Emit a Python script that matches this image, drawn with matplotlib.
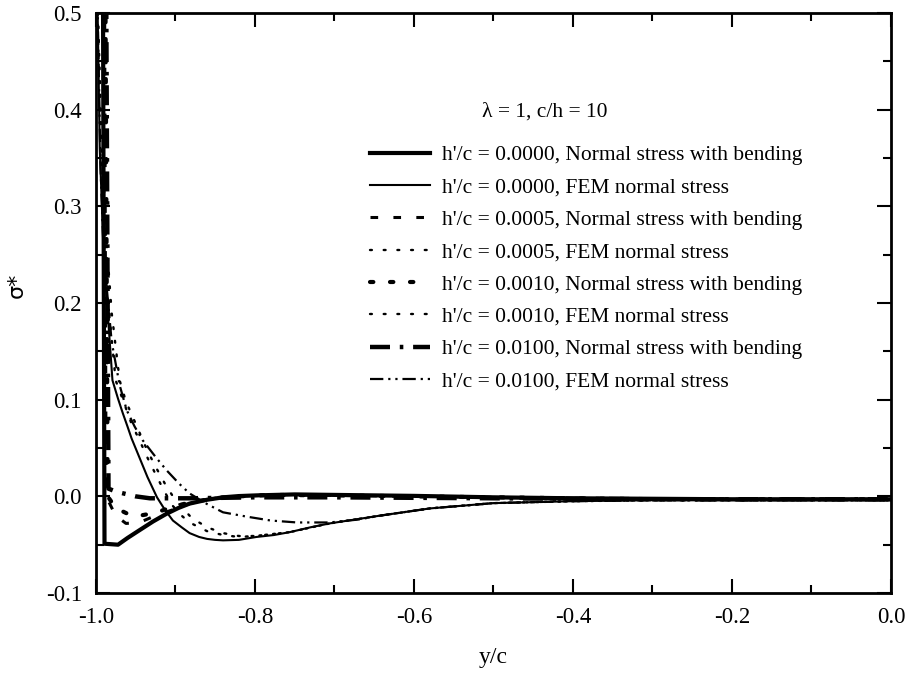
import matplotlib
matplotlib.use('Agg')
import matplotlib.pyplot as plt
from matplotlib.ticker import MultipleLocator, FormatStrFormatter

plt.rcParams['font.family'] = 'Liberation Serif'

# h'/c = 0.0000, normal stress with bending
x_b0 = [-0.991, -0.989, -0.972, -0.960, -0.945, -0.928, -0.911, -0.896, -0.882, -0.860, -0.840, -0.820,
        -0.798, -0.750, -0.700, -0.600, -0.500, -0.400, -0.300, -0.200, -0.100, 0.000]
y_b0 = [0.55, -0.049, -0.050, -0.043, -0.035, -0.026, -0.018, -0.012, -0.0075, -0.0035, -0.001, 0.0003,
        0.001, 0.002, 0.0015, 0.0005, -0.001, -0.002, -0.0025, -0.003, -0.003, -0.003]

# h'/c = 0.0000, FEM normal stress
x_f0 = [-0.998, -0.995, -0.990, -0.985, -0.979, -0.972, -0.966, -0.960, -0.955, -0.945, -0.935, -0.923,
        -0.913, -0.903, -0.892, -0.882, -0.870, -0.860, -0.850, -0.840, -0.820, -0.798, -0.776, -0.756,
        -0.730, -0.706, -0.643, -0.580, -0.500, -0.400, -0.300, -0.200, -0.100, 0.000]
y_f0 = [0.52, 0.36, 0.25, 0.19, 0.12, 0.101, 0.086, 0.072, 0.060, 0.040, 0.020, -0.001,
        -0.014, -0.025, -0.032, -0.038, -0.042, -0.044, -0.045, -0.0455, -0.045, -0.042, -0.040, -0.037,
        -0.032, -0.028, -0.020, -0.0125, -0.007, -0.005, -0.004, -0.004, -0.004, -0.004]

# h'/c = 0.0005, normal stress with bending
x_b1 = [-0.989, -0.987, -0.975, -0.962, -0.945, -0.925, -0.900, -0.880, -0.850, -0.820, -0.780, -0.700,
        -0.600, -0.500, -0.400, -0.300, -0.200, -0.100, 0.000]
y_b1 = [0.55, 0.0, -0.020, -0.028, -0.027, -0.020, -0.013, -0.007, -0.002, 0.0, 0.0015, 0.001,
        0.0, -0.001, -0.002, -0.003, -0.003, -0.003, -0.003]

# h'/c = 0.0005, FEM normal stress
x_f1 = [-0.998, -0.994, -0.988, -0.982, -0.975, -0.966, -0.955, -0.945, -0.935, -0.923, -0.913, -0.903,
        -0.892, -0.882, -0.870, -0.860, -0.840, -0.820, -0.800, -0.756, -0.706, -0.643, -0.580, -0.500,
        -0.400, -0.300, -0.200, -0.100, 0.000]
y_f1 = [0.52, 0.38, 0.26, 0.18, 0.12, 0.100, 0.075, 0.058, 0.040, 0.020, 0.004, -0.010,
        -0.020, -0.027, -0.032, -0.036, -0.040, -0.042, -0.041, -0.037, -0.028, -0.020, -0.0125, -0.007,
        -0.005, -0.004, -0.004, -0.004, -0.004]

# h'/c = 0.0010, normal stress with bending
x_b2 = [-0.988, -0.985, -0.975, -0.960, -0.945, -0.925, -0.900, -0.880, -0.850, -0.820, -0.780, -0.700,
        -0.600, -0.500, -0.400, -0.300, -0.200, -0.100, 0.000]
y_b2 = [0.55, 0.0, -0.012, -0.018, -0.020, -0.017, -0.010, -0.006, -0.002, 0.0, 0.0015, 0.001,
        0.0, -0.001, -0.002, -0.003, -0.003, -0.003, -0.003]

# h'/c = 0.0010, FEM normal stress
x_f2 = [-0.998, -0.993, -0.987, -0.980, -0.970, -0.962, -0.955, -0.945, -0.935, -0.923, -0.913, -0.903,
        -0.892, -0.882, -0.870, -0.860, -0.840, -0.820, -0.800, -0.756, -0.706, -0.643, -0.580, -0.500,
        -0.400, -0.300, -0.200, -0.100, 0.000]
y_f2 = [0.52, 0.38, 0.27, 0.19, 0.12, 0.098, 0.085, 0.066, 0.047, 0.028, 0.013, 0.0,
        -0.011, -0.020, -0.027, -0.032, -0.038, -0.041, -0.041, -0.037, -0.028, -0.020, -0.0125, -0.007,
        -0.005, -0.004, -0.004, -0.004, -0.004]

# h'/c = 0.0100, normal stress with bending
x_b3 = [-0.987, -0.984, -0.975, -0.950, -0.932, -0.880, -0.800, -0.700, -0.600, -0.500, -0.400, -0.300,
        -0.200, -0.100, 0.000]
y_b3 = [0.55, 0.008, 0.005, 0.0, -0.002, -0.002, -0.001, -0.001, -0.0015, -0.002, -0.0025, -0.003,
        -0.003, -0.003, -0.003]

# h'/c = 0.0100, FEM normal stress
x_f3 = [-0.998, -0.994, -0.990, -0.980, -0.970, -0.961, -0.951, -0.941, -0.925, -0.911, -0.895, -0.882,
        -0.870, -0.860, -0.840, -0.810, -0.780, -0.747, -0.706, -0.670, -0.643, -0.580, -0.500, -0.400,
        -0.300, -0.200, -0.100, 0.000]
y_f3 = [0.52, 0.34, 0.25, 0.16, 0.115, 0.089, 0.072, 0.058, 0.041, 0.027, 0.013, 0.003,
        -0.003, -0.008, -0.0165, -0.021, -0.025, -0.027, -0.027, -0.024, -0.020, -0.0125, -0.007, -0.005,
        -0.004, -0.004, -0.004, -0.004]

labels = ["h'/c = 0.0000, Normal stress with bending",
          "h'/c = 0.0000, FEM normal stress",
          "h'/c = 0.0005, Normal stress with bending",
          "h'/c = 0.0005, FEM normal stress",
          "h'/c = 0.0010, Normal stress with bending",
          "h'/c = 0.0010, FEM normal stress",
          "h'/c = 0.0100, Normal stress with bending",
          "h'/c = 0.0100, FEM normal stress"]

fig = plt.figure(figsize=(9.12, 6.77), dpi=100)
ax = fig.add_axes([0.105, 0.124, 0.872, 0.857])

ax.plot(x_b0, y_b0, color='black', lw=3.0, label=labels[0])
ax.plot(x_f0, y_f0, color='black', lw=1.5, label=labels[1])
ax.plot(x_b1, y_b1, color='black', lw=2.2, dashes=(2.5, 5), label=labels[2])
ax.plot(x_f1, y_f1, color='black', lw=1.7, dashes=(0.8, 5), dash_capstyle='round', label=labels[3])
ax.plot(x_b2, y_b2, color='black', lw=3.0, dashes=(0.8, 4), dash_capstyle='round', label=labels[4])
ax.plot(x_f2, y_f2, color='black', lw=1.7, dashes=(0.8, 5), dash_capstyle='round', label=labels[5])
ax.plot(x_b3, y_b3, color='black', lw=3.2, dashes=(4.5, 2.2, 0.8, 2.2), label=labels[6])
ax.plot(x_f3, y_f3, color='black', lw=1.6, dashes=(6, 2.2, 1, 2.2, 1, 2.2), label=labels[7])

ax.set_xlim(-1.0, 0.0)
ax.set_ylim(-0.1, 0.5)
ax.xaxis.set_major_locator(MultipleLocator(0.2))
ax.xaxis.set_minor_locator(MultipleLocator(0.1))
ax.yaxis.set_major_locator(MultipleLocator(0.1))
ax.yaxis.set_minor_locator(MultipleLocator(0.05))
ax.xaxis.set_major_formatter(FormatStrFormatter('%.1f'))
ax.yaxis.set_major_formatter(FormatStrFormatter('%.1f'))
ax.tick_params(which='both', direction='in', top=True, right=True, width=1.5, labelsize=16.5, pad=10)
ax.tick_params(which='major', length=10)
ax.tick_params(which='minor', length=6)
for sp in ax.spines.values():
    sp.set_linewidth(2)

ax.set_xlabel('y/c', fontsize=17, labelpad=14)
ax.set_ylabel('σ*', fontsize=16, family='DejaVu Sans')
ax.yaxis.set_label_coords(-0.087, 0.53)

ax.text(0.565, 0.829, 'λ = 1, c/h = 10', transform=ax.transAxes, fontsize=15.5, ha='center', va='center')
ax.legend(loc='upper left', bbox_to_anchor=(0.345, 0.772), frameon=False, fontsize=15.5,
          handlelength=2.8, handletextpad=0.55, labelspacing=0.57, borderpad=0, borderaxespad=0)

fig.savefig('out.png', dpi=100)
